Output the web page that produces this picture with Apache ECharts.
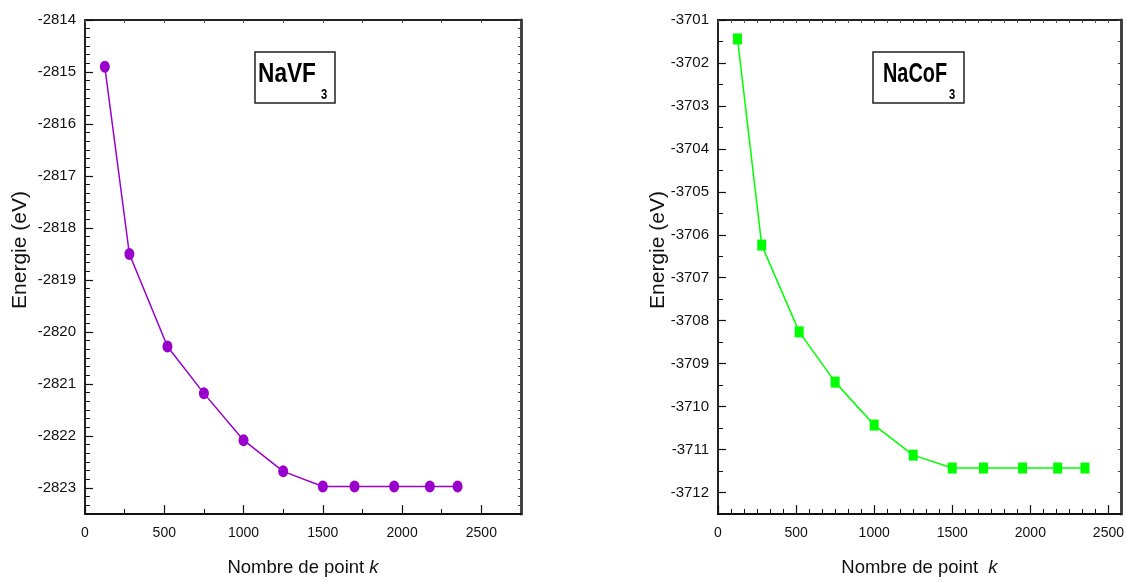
<!DOCTYPE html>
<html><head><meta charset="utf-8">
<script src="https://cdn.jsdelivr.net/npm/echarts@6/dist/echarts.min.js"></script>
<style>html,body{margin:0;padding:0;background:#fff}#c{width:1127px;height:582px}</style>
</head><body><div id="c"></div>
<script>
// ---- data ----
const kPoints = [125, 280, 520, 750, 1000, 1250, 1500, 1700, 1950, 2175, 2350];
const energyNaVF3 = [-2814.9, -2818.5, -2820.28, -2821.18, -2822.08, -2822.68, -2822.97, -2822.97, -2822.97, -2822.97, -2822.97];
const energyNaCoF3 = [-3701.44, -3706.24, -3708.26, -3709.43, -3710.43, -3711.13, -3711.43, -3711.43, -3711.43, -3711.43, -3711.43];
const xTickLabels = [0, 500, 1000, 1500, 2000, 2500];
const yTicksNaVF3 = [-2823, -2822, -2821, -2820, -2819, -2818, -2817, -2816, -2815, -2814];
const yTicksNaCoF3 = [-3712, -3711, -3710, -3709, -3708, -3707, -3706, -3705, -3704, -3703, -3702, -3701];
const nameX = 'Nombre de point ';
const nameY = 'Energie (eV)';

const FONT = "'Liberation Sans', Arial, sans-serif";
const INK = '#111';

function minors(min, max, step, majors) {
  const out = [];
  const n = Math.round((max - min) / step);
  for (let i = 0; i <= n; i++) {
    const v = +(min + i * step).toFixed(6);
    if (v <= min + 1e-9 || v >= max - 1e-9) continue;
    if (majors.some(m => Math.abs(m - v) < 1e-6)) continue;
    out.push(v);
  }
  return out;
}

const panels = [
  { grid: { left: 85, top: 20, width: 436, height: 495 },
    xr: [0, 2750], xMinorStep: 250, yr: [-2823.5, -2814], yTicks: yTicksNaVF3, yMinorStep: 1/6, yMinorStart: -2823.5,
    data: energyNaVF3, color: '#9900cc', symbol: 'circle', symbolSize: [10, 12], nameGapY: 54, kSpace: '' },
  { grid: { left: 718, top: 20, width: 403, height: 495 },
    xr: [0, 2580], xMinorStep: 500/6, yr: [-3712.5, -3701], yTicks: yTicksNaCoF3, yMinorStep: 0.5, yMinorStart: -3712.5,
    data: energyNaCoF3, color: '#00ff00', symbol: 'rect', symbolSize: [9, 11], nameGapY: 49, kSpace: ' ' }
];

const grids = [], xAxes = [], yAxes = [], series = [];
panels.forEach((p, g) => {
  grids.push(p.grid);
  const xMin = minors(p.xr[0], p.xr[1], p.xMinorStep, xTickLabels);
  const yMin = minors(p.yMinorStart, p.yr[1], p.yMinorStep, p.yTicks);
  const base = { gridIndex: g, type: 'value', splitLine: { show: false } };
  // bottom major
  xAxes.push(Object.assign({}, base, {
    position: 'bottom', min: p.xr[0], max: p.xr[1],
    axisLine: { show: true, onZero: false, lineStyle: { color: INK, width: 2 } },
    axisTick: { show: true, inside: true, length: 9, customValues: xTickLabels, lineStyle: { color: INK, width: 1.2 } },
    axisLabel: { show: true, customValues: xTickLabels, margin: 12, fontSize: 14, fontFamily: FONT, color: INK, formatter: v => String(v) },
    name: '{n|' + nameX + p.kSpace + '}{k|k}', nameLocation: 'middle', nameGap: 44, nameMoveOverlap: false,
    nameTextStyle: { rich: {
      n: { fontSize: 18.5, fontFamily: FONT, color: INK },
      k: { fontSize: 18.5, fontFamily: FONT, color: INK, fontStyle: 'italic' } } }
  }));
  // bottom minor
  xAxes.push(Object.assign({}, base, {
    position: 'bottom', min: p.xr[0], max: p.xr[1],
    axisLine: { show: false },
    axisTick: { show: true, inside: true, length: 5, customValues: xMin, lineStyle: { color: INK, width: 1 } },
    axisLabel: { show: false }
  }));
  // top mirror
  xAxes.push(Object.assign({}, base, {
    position: 'top', min: p.xr[0], max: p.xr[1],
    axisLine: { show: true, onZero: false, lineStyle: { color: '#222', width: 2 } },
    axisTick: { show: true, inside: true, length: 3, customValues: xTickLabels.concat(xMin), lineStyle: { color: '#555', width: 1 } },
    axisLabel: { show: false }
  }));
  // left major
  yAxes.push(Object.assign({}, base, {
    position: 'left', min: p.yr[0], max: p.yr[1],
    axisLine: { show: true, onZero: false, lineStyle: { color: '#222', width: 2 } },
    axisTick: { show: true, inside: true, length: 8, customValues: p.yTicks, lineStyle: { color: INK, width: 1.2 } },
    axisLabel: { show: true, customValues: p.yTicks, margin: 9, fontSize: 15, fontFamily: FONT, color: INK, formatter: v => String(v) },
    name: nameY, nameLocation: 'middle', nameGap: p.nameGapY, nameMoveOverlap: false,
    nameTextStyle: { fontSize: 21, fontFamily: FONT, color: INK, padding: [0, 0, 0, 34] }
  }));
  // left minor
  yAxes.push(Object.assign({}, base, {
    position: 'left', min: p.yr[0], max: p.yr[1],
    axisLine: { show: false },
    axisTick: { show: true, inside: true, length: 5, customValues: yMin, lineStyle: { color: INK, width: 1 } },
    axisLabel: { show: false }
  }));
  // right mirror
  yAxes.push(Object.assign({}, base, {
    position: 'right', min: p.yr[0], max: p.yr[1],
    axisLine: { show: true, onZero: false, lineStyle: { color: '#444', width: 3 } },
    axisTick: { show: true, inside: true, length: 3, customValues: p.yTicks.concat(yMin), lineStyle: { color: '#444', width: 1 } },
    axisLabel: { show: false }
  }));
  series.push({
    type: 'line', xAxisIndex: g * 3, yAxisIndex: g * 3,
    data: kPoints.map((k, i) => [k, p.data[i]]),
    symbol: p.symbol, symbolSize: p.symbolSize, showSymbol: true,
    lineStyle: { color: p.color, width: 1.5 }, itemStyle: { color: p.color },
    z: 5
  });
});

function titleBox(x, y, w, h, main, tx, sx, subX) {
  return [
    { type: 'rect', shape: { x: x, y: y, width: w, height: h }, style: { fill: '#fff', stroke: '#222', lineWidth: 1.5 }, z: 10 },
    { type: 'text', x: tx, y: y + 22, scaleX: sx, style: { text: main, x: 0, y: 0, font: "bold 28px " + FONT, fill: '#000', textVerticalAlign: 'middle' }, z: 11 },
    { type: 'text', x: subX, y: y + 43, scaleX: 0.8, style: { text: '3', x: 0, y: 0, font: "bold 14px " + FONT, fill: '#000', textVerticalAlign: 'middle' }, z: 11 }
  ];
}

const chart = echarts.init(document.getElementById('c'), null, { renderer: 'canvas' });
chart.setOption({
  animation: false,
  backgroundColor: '#fff',
  grid: grids,
  xAxis: xAxes,
  yAxis: yAxes,
  series: series,
  graphic: titleBox(255, 52, 80, 51, 'NaVF', 258, 0.81, 321).concat(titleBox(873, 52, 91, 51, 'NaCoF', 883, 0.71, 949))
});
</script></body></html>
